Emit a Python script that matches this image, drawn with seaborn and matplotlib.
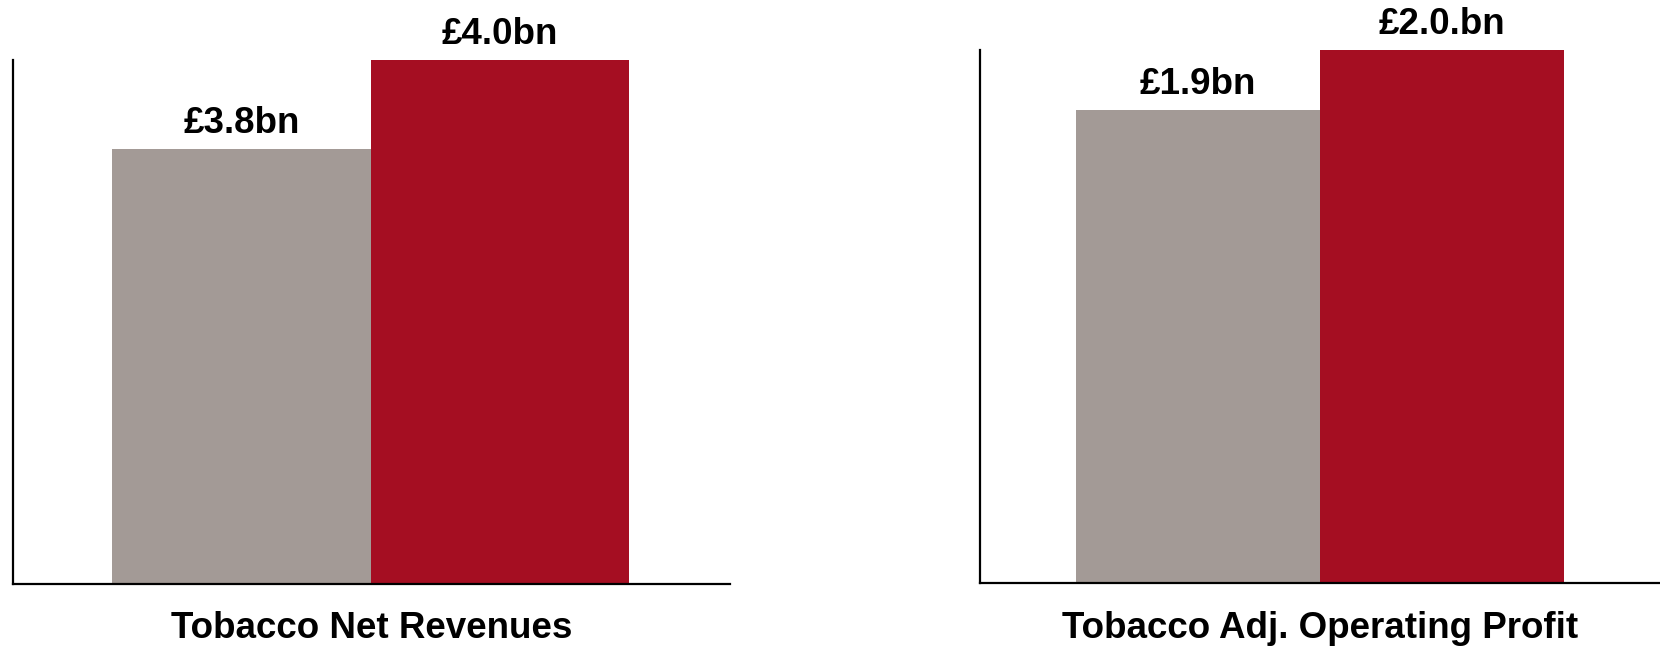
import matplotlib
matplotlib.use("Agg")
import matplotlib.pyplot as plt
import seaborn as sns
import pandas as pd

# ---- data ----
periods = ["Prior year", "Current year"]
revenue_values = [3.8, 4.0]
revenue_labels = ["£3.8bn", "£4.0bn"]
profit_values = [1.9, 2.0]
profit_labels = ["£1.9bn", "£2.0.bn"]
panel_titles = ["Tobacco Net Revenues", "Tobacco Adj. Operating Profit"]
bar_colors = ["#A39A96", "#A50E22"]

sns.set_theme(style="white")
plt.rcParams["font.family"] = ["Liberation Sans", "DejaVu Sans"]

fig = plt.figure(figsize=(16.6, 6.46), dpi=100)
ax1 = fig.add_axes([0.0077, 0.096, 0.432, 0.811])
ax2 = fig.add_axes([0.5904, 0.0975, 0.4096, 0.825])

panels = [
    (ax1, revenue_values, revenue_labels, panel_titles[0], (2.82, 4.0), (-0.885, 1.89)),
    (ax2, profit_values, profit_labels, panel_titles[1], (1.115, 2.0), (-0.893, 1.893)),
]

for ax, vals, labels, title, ylim, xlim in panels:
    df = pd.DataFrame({"period": periods, "value": vals})
    sns.barplot(data=df, x="period", y="value", hue="period", palette=bar_colors,
                width=1.0, legend=False, ax=ax, saturation=1, linewidth=0)
    ax.set_ylim(*ylim)
    ax.set_xlim(*xlim)
    for patch, lab in zip(ax.patches, labels):
        ax.annotate(lab, (patch.get_x() + patch.get_width() / 2, patch.get_height() + patch.get_y()),
                    xytext=(0, 6), textcoords="offset points", ha="center", va="bottom",
                    fontsize=26.5, fontweight="bold", color="black")
    ax.set_xlabel("")
    ax.set_ylabel("")
    ax.set_xticks([])
    ax.set_yticks([])
    for s in ["top", "right"]:
        ax.spines[s].set_visible(False)
    for s in ["left", "bottom"]:
        ax.spines[s].set_color("black")
        ax.spines[s].set_linewidth(1.6)
    ax.text(0.5, -0.103, title, transform=ax.transAxes, ha="center", va="baseline",
            fontsize=26.5, fontweight="bold", color="black")

fig.savefig("out.png", dpi=100)
